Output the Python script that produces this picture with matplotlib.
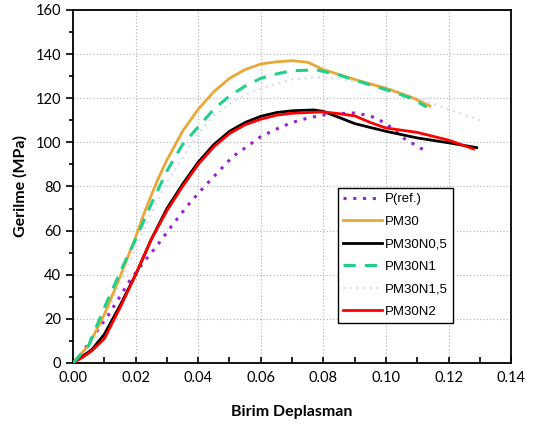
import matplotlib
matplotlib.use("Agg")
import matplotlib.pyplot as plt
from matplotlib.ticker import MultipleLocator, FormatStrFormatter

# Data
p_ref_x = [0, 0.003, 0.0065, 0.011, 0.0145, 0.018, 0.0225, 0.027, 0.032, 0.037, 0.042, 0.047, 0.051, 0.055, 0.06, 0.065, 0.07, 0.075, 0.08, 0.085, 0.09, 0.095, 0.1, 0.1055, 0.112]
p_ref_y = [0, 4.5, 12.5, 21, 29, 37, 45.5, 53.5, 63, 72, 80, 87.5, 93.5, 97.5, 102.6, 106, 109, 111, 112.4, 113, 113.3, 112, 108.6, 102, 96.6]

pm30_x = [0, 0.005, 0.01, 0.015, 0.02, 0.0225, 0.025, 0.0275, 0.03, 0.035, 0.04, 0.045, 0.05, 0.055, 0.06, 0.065, 0.07, 0.075, 0.08, 0.09, 0.1, 0.108, 0.114]
pm30_y = [0, 8, 22, 39, 57, 67, 76, 84.5, 92, 105, 115, 123, 129, 133, 135.5, 136.5, 137, 136.3, 133, 128.5, 124.5, 120.5, 116.5]

pm30n05_x = [0, 0.003, 0.006, 0.01, 0.015, 0.02, 0.025, 0.03, 0.035, 0.04, 0.045, 0.05, 0.055, 0.06, 0.065, 0.07, 0.077, 0.08, 0.085, 0.09, 0.1, 0.11, 0.12, 0.129]
pm30n05_y = [0, 3, 6, 13, 26, 40, 56, 70, 81, 91, 99, 105, 109, 111.8, 113.5, 114.3, 114.7, 114, 111.3, 108.5, 105, 102, 99.8, 97.6]

pm30n1_x = [0, 0.005, 0.01, 0.015, 0.02, 0.025, 0.03, 0.035, 0.04, 0.045, 0.05, 0.055, 0.06, 0.065, 0.07, 0.078, 0.085, 0.095, 0.102, 0.108, 0.113]
pm30n1_y = [0, 8, 25, 41, 56, 72, 87, 99, 107, 115, 121, 125.5, 129, 131, 132.5, 132.8, 130.5, 126, 123, 120, 116]

pm30n15_x = [0, 0.005, 0.01, 0.015, 0.02, 0.025, 0.03, 0.035, 0.04, 0.045, 0.05, 0.055, 0.06, 0.065, 0.07, 0.078, 0.085, 0.095, 0.102, 0.113, 0.12, 0.13]
pm30n15_y = [0, 6, 20, 36, 52, 68, 82, 93, 104, 112, 117.5, 121.5, 124.4, 126.5, 128.5, 129.5, 129, 126, 124, 118.5, 115, 110]

pm30n2_x = [0, 0.003, 0.006, 0.01, 0.015, 0.02, 0.025, 0.03, 0.035, 0.04, 0.045, 0.05, 0.055, 0.06, 0.065, 0.07, 0.08, 0.085, 0.09, 0.095, 0.1, 0.11, 0.12, 0.128]
pm30n2_y = [0, 2.5, 5.5, 11, 25, 40, 56, 69, 80, 90, 98, 104, 108, 110.5, 112.3, 113.2, 113.8, 113, 112, 109, 106.5, 104.5, 101, 97]

x_ticks = [0.00, 0.02, 0.04, 0.06, 0.08, 0.10, 0.12, 0.14]
y_ticks = [0, 20, 40, 60, 80, 100, 120, 140, 160]

plt.rcParams['font.family'] = ['Lato', 'DejaVu Sans']

fig = plt.figure(figsize=(5.33, 4.33), dpi=100)
ax = fig.add_axes([0.137, 0.1617, 0.822, 0.8153])

ax.plot(p_ref_x, p_ref_y, color='#9b1fd6', lw=2.2, ls=(0, (1, 2.2)), label='P(ref.)', zorder=3)
ax.plot(pm30_x, pm30_y, color='#e8a838', lw=2.0, label='PM30', zorder=4)
ax.plot(pm30n05_x, pm30n05_y, color='black', lw=2.0, label='PM30N0,5', zorder=3)
ax.plot(pm30n1_x, pm30n1_y, color='#1fd08a', lw=2.2, ls=(0, (4, 3)), label='PM30N1', zorder=5)
ax.plot(pm30n15_x, pm30n15_y, color='#dcdcf8', lw=1.6, ls=(0, (1, 2)), label='PM30N1,5', zorder=2)
ax.plot(pm30n2_x, pm30n2_y, color='#ff0000', lw=2.0, label='PM30N2', zorder=4)

ax.set_xlim(0, 0.14)
ax.set_ylim(0, 160)
ax.set_xticks(x_ticks)
ax.set_yticks(y_ticks)
ax.xaxis.set_major_formatter(FormatStrFormatter('%.2f'))
ax.xaxis.set_minor_locator(MultipleLocator(0.01))
ax.yaxis.set_minor_locator(MultipleLocator(10))
ax.tick_params(axis='x', which='both', direction='in', length=4, width=1.2, labelsize=10.5, pad=6)
ax.tick_params(axis='y', which='major', direction='out', length=5, width=1.2, labelsize=10.5)
ax.tick_params(axis='y', which='minor', direction='out', length=3, width=1.2)
ax.grid(True, which='major', color='#b0b0b0', ls=(0, (1, 2)), lw=0.8)
for s in ax.spines.values():
    s.set_linewidth(1.3)

ax.set_xlabel('Birim Deplasman', fontsize=11.5, fontweight='bold', labelpad=14)
ax.set_ylabel('Gerilme (MPa)', fontsize=11.5, fontweight='bold', labelpad=6)

leg = ax.legend(loc='upper left', bbox_to_anchor=(0.596, 0.507),
                frameon=True, fancybox=False, edgecolor='black', framealpha=1,
                handlelength=2.9, borderpad=0.4, labelspacing=0.78, handletextpad=0.25,
                borderaxespad=0.3,
                prop={'family': ['Liberation Sans'], 'size': 9.5})
leg.get_frame().set_linewidth(1.0)

fig.savefig('out.png', dpi=100)
